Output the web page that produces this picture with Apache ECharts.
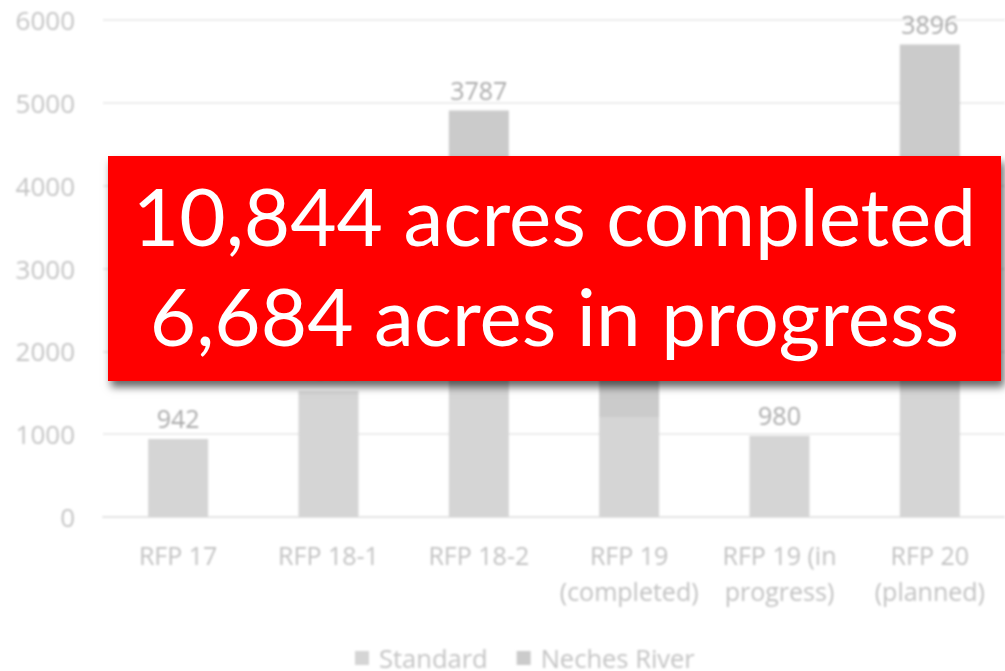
<!DOCTYPE html>
<html>
<head>
<meta charset="utf-8">
<script src="https://cdn.jsdelivr.net/npm/echarts@6/dist/echarts.min.js"></script>
<style>
  html, body { margin: 0; padding: 0; background: #fff; }
  #wrap { position: relative; width: 1005px; height: 671px; overflow: hidden; }
  #chart { position: absolute; left: 0; top: 0; width: 1005px; height: 671px; filter: blur(0.9px); }
  #note {
    position: absolute; left: 108px; top: 156px; width: 893px; height: 225px;
    background: #ff0000; color: #fff; box-shadow: 3px 6px 8px rgba(0,0,0,0.6);
    font-family: Lato, "Open Sans", sans-serif; font-size: 80px; line-height: 100px;
    text-align: center; padding-top: 9px; box-sizing: border-box;
  }
</style>
</head>
<body>
<div id="wrap">
  <div id="chart"></div>
  <div id="note">10,844 acres completed<br>6,684 acres in progress</div>
</div>
<script>
// categories and values
var categories = ["RFP 17", "RFP 18-1", "RFP 18-2", "RFP 19\n(completed)", "RFP 19 (in\nprogress)", "RFP 20\n(planned)"];
var standard = [942, 1522, 3787, 1199, 980, 3896];
var neches = [0, 0, 1120, 2274, 0, 1808];
var yTicks = [0, 1000, 2000, 3000, 4000, 5000, 6000];

var myChart = echarts.init(document.getElementById("chart"), null, { renderer: "svg" });
var font = "'Open Sans', sans-serif";
var option = {
  animation: false,
  textStyle: { fontFamily: font },
  grid: { left: 103, right: -3, top: 20, bottom: 154 },
  legend: {
    top: 640,
    left: 350,
    itemWidth: 14,
    itemHeight: 14,
    itemGap: 29,
    icon: "rect",
    textStyle: { color: "#c4c4c4", fontSize: 25.5, fontFamily: font, padding: [0, 0, 0, 5] },
    data: ["Standard", "Neches River"]
  },
  xAxis: {
    type: "category",
    data: categories,
    axisLine: { lineStyle: { color: "#e4e4e4", width: 2 } },
    axisTick: { show: false },
    axisLabel: { color: "#c2c2c2", fontSize: 25, lineHeight: 36, margin: 20, interval: 0 }
  },
  yAxis: {
    type: "value",
    min: yTicks[0],
    max: yTicks[yTicks.length - 1],
    interval: 1000,
    axisLine: { show: false },
    axisTick: { show: false },
    axisLabel: { color: "#c4c4c4", fontSize: 26, margin: 28, formatter: function (v) { return String(v); } },
    splitLine: { lineStyle: { color: "#ececec", width: 2 } }
  },
  series: [
    {
      name: "Standard",
      type: "bar",
      stack: "acres",
      barWidth: 60,
      itemStyle: { color: "#d5d5d5" },
      data: standard
    },
    {
      name: "Neches River",
      type: "bar",
      stack: "acres",
      barWidth: 60,
      itemStyle: { color: "#cbcbcb" },
      label: {
        show: true,
        position: "top",
        distance: 8,
        color: "#ababab",
        fontSize: 25,
        formatter: function (p) { return standard[p.dataIndex]; }
      },
      data: neches
    }
  ]
};
myChart.setOption(option);
</script>
</body>
</html>
